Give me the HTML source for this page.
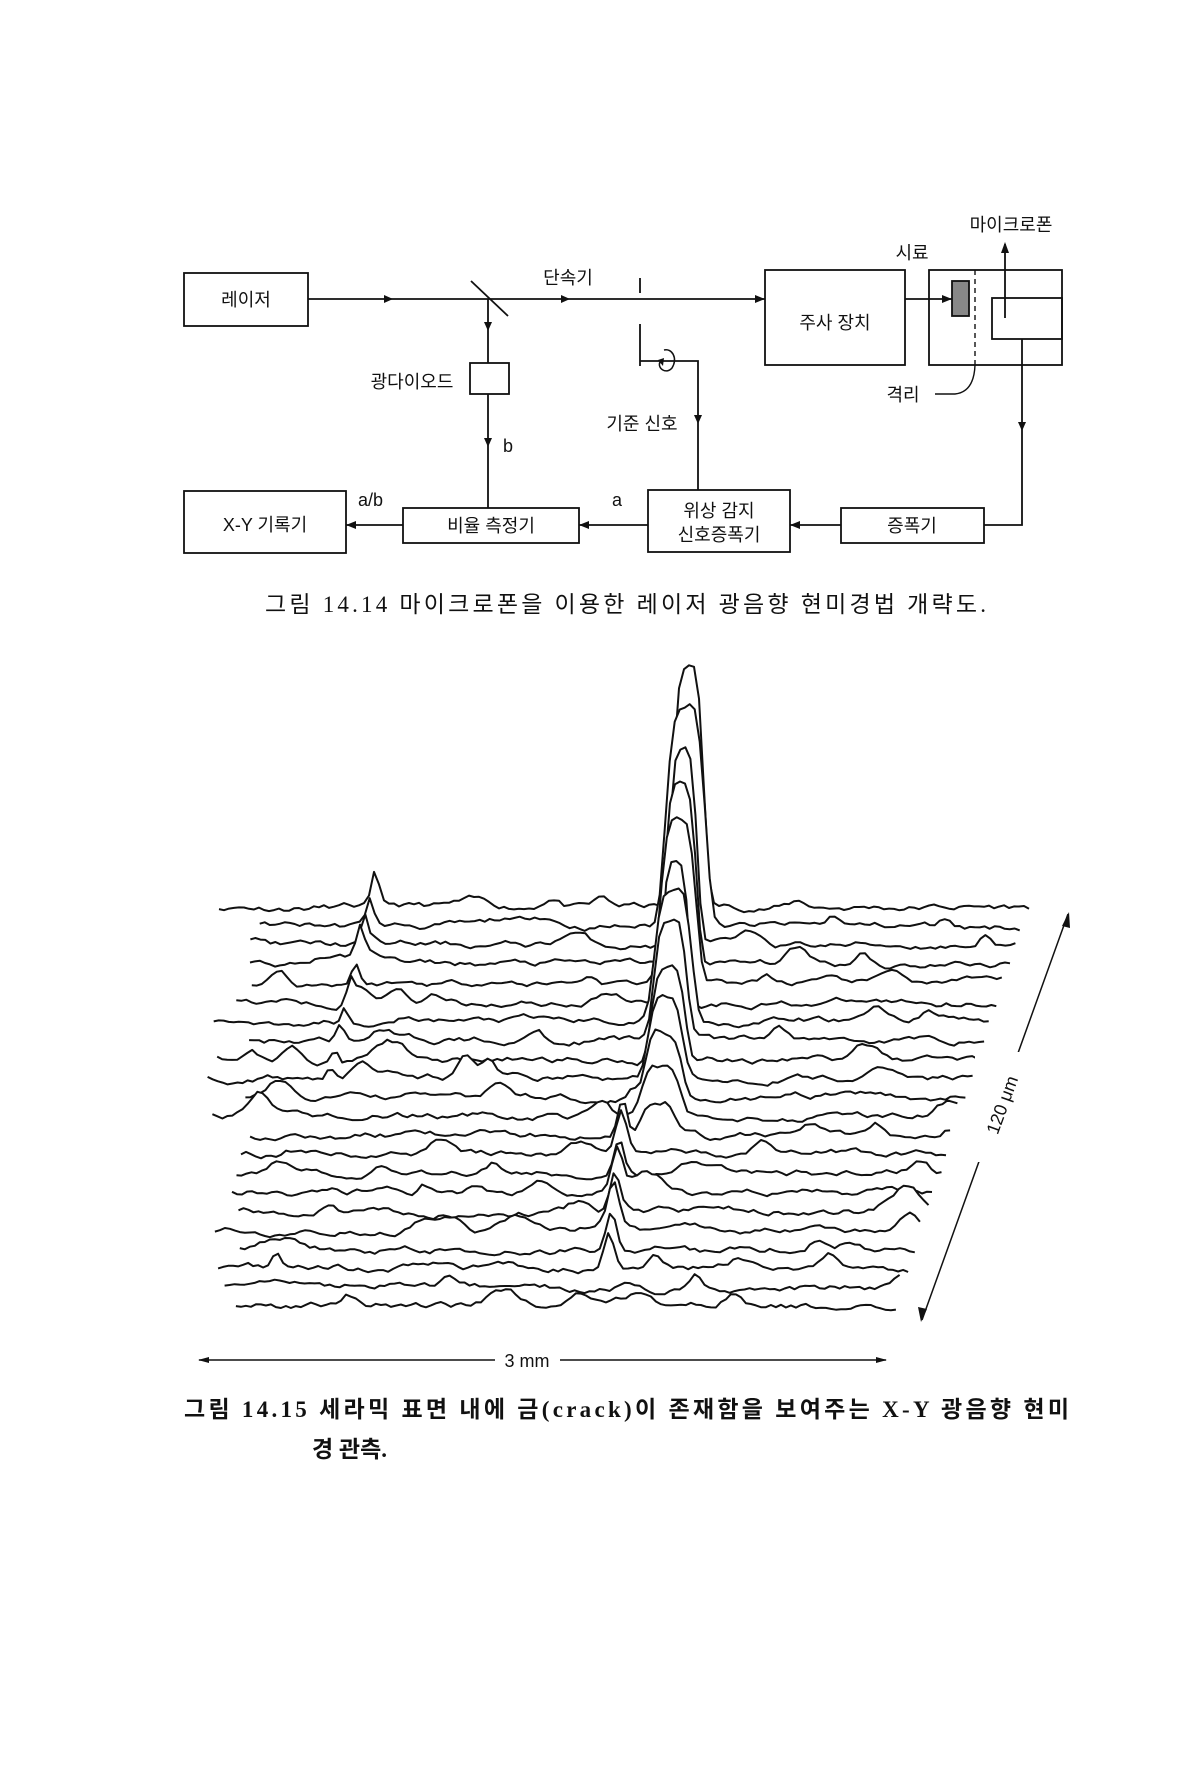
<!DOCTYPE html>
<html><head><meta charset="utf-8">
<style>
html,body{margin:0;padding:0;background:#fff;}
svg{display:block;}
.t{font-family:"Liberation Sans","Noto Sans CJK KR",sans-serif;font-size:18px;fill:#111;}
.c{font-family:"Liberation Serif","Noto Sans CJK KR",serif;font-size:23px;fill:#111;}
</style></head>
<body>
<svg id="s" width="1193" height="1767" viewBox="0 0 1193 1767" xmlns="http://www.w3.org/2000/svg">
<rect width="1193" height="1767" fill="#fff"/>
<g stroke="#111" stroke-width="1.8" fill="none">
  <rect x="184" y="273" width="124" height="53"/>
  <rect x="765" y="270" width="140" height="95"/>
  <rect x="929" y="270" width="133" height="95"/>
  <rect x="992" y="298" width="70" height="41"/>
  <rect x="470" y="363" width="39" height="31"/>
  <rect x="184" y="491" width="162" height="62"/>
  <rect x="403" y="508" width="176" height="35"/>
  <rect x="648" y="490" width="142" height="62"/>
  <rect x="841" y="508" width="143" height="35"/>
  <path d="M308 299 H765"/>
  <path d="M471 281 L508 316"/>
  <path d="M488 299 V363 M488 394 V508"/>
  <path d="M640 278 V293 M640 324 V366 M640 361 H698 V490"/>
  <path d="M905 299 H952"/>
  <path d="M975 270 V365" stroke-dasharray="5,4" stroke-width="1.4"/>
  <path d="M975 365 Q974 392 955 394 H935" stroke-width="1.4"/>
  <path d="M1005 318 V244"/>
  <path d="M1022 339 V525 H984"/>
  <path d="M841 525 H790 M648 525 H579 M403 525 H346"/>
</g>
<rect x="952" y="281" width="17" height="35" fill="#888" stroke="#111" stroke-width="1.8"/>
<g fill="#111">
  <polygon points="384,295 393,299 384,303"/>
  <polygon points="561,295 570,299 561,303"/>
  <polygon points="755,295 765,299 755,303"/>
  <polygon points="942,295 952,299 942,303"/>
  <polygon points="484,322 488,331 492,322"/>
  <polygon points="484,438 488,447 492,438"/>
  <polygon points="694,415 698,424 702,415"/>
  <polygon points="1018,422 1022,431 1026,422"/>
  <polygon points="1001,253 1005,242 1009,253"/>
  <polygon points="800,521 790,525 800,529"/>
  <polygon points="589,521 579,525 589,529"/>
  <polygon points="356,521 346,525 356,529"/>
</g>
<path d="M664 350 C672 348 678 358 672 368 C666 375 657 368 660 362" stroke="#111" stroke-width="1.5" fill="none"/>
<polygon points="658,360 663,366 664,358" fill="#111"/>
<g class="t">
  <text x="246" y="306" text-anchor="middle">레이저</text>
  <text x="568" y="284" text-anchor="middle">단속기</text>
  <text x="835" y="329" text-anchor="middle">주사 장치</text>
  <text x="912" y="259" text-anchor="middle">시료</text>
  <text x="1011" y="231" text-anchor="middle">마이크로폰</text>
  <text x="903" y="401" text-anchor="middle">격리</text>
  <text x="412" y="388" text-anchor="middle">광다이오드</text>
  <text x="642" y="430" text-anchor="middle">기준 신호</text>
  <text x="503" y="452">b</text>
  <text x="358" y="506">a/b</text>
  <text x="612" y="506">a</text>
  <text x="265" y="531" text-anchor="middle">X-Y 기록기</text>
  <text x="491" y="532" text-anchor="middle">비율 측정기</text>
  <text x="719" y="517" text-anchor="middle">위상 감지</text>
  <text x="719" y="541" text-anchor="middle">신호증폭기</text>
  <text x="912" y="532" text-anchor="middle">증폭기</text>
</g>
<text class="c" x="265" y="612" textLength="721">그림 14.14 마이크로폰을 이용한 레이저 광음향 현미경법 개략도.</text>
<g id="plot" stroke="#111" stroke-width="2" fill="#fff" stroke-linejoin="round"></g>
<g stroke="#111" stroke-width="1.5" fill="none">
  <path d="M1068 914 L922 1320"/>
  <path d="M199 1360 H495 M560 1360 H886"/>
</g>
<rect x="975" y="1052" width="55" height="110" fill="#fff"/>
<g fill="#111">
  <polygon points="1062,926 1069,912 1070,928"/>
  <polygon points="918,1307 921,1322 927,1309"/>
  <polygon points="209,1357 198,1360 209,1363"/>
  <polygon points="876,1357 887,1360 876,1363"/>
</g>
<text class="t" x="0" y="0" transform="translate(1008,1107) rotate(-70)" text-anchor="middle">120 μm</text>
<text class="t" x="527" y="1367" text-anchor="middle">3 mm</text>
<text class="c" x="184" y="1417" textLength="885" font-weight="bold">그림 14.15 세라믹 표면 내에 금(crack)이 존재함을 보여주는 X-Y 광음향 현미</text>
<text class="c" x="312" y="1457" font-weight="bold">경 관측.</text>
</svg>
<script>
(function(){
var seed=11;function r(){seed=(seed*16807)%2147483647;return seed/2147483647;}
var g=document.getElementById('plot');var N=22;var out='';
for(var i=0;i<N;i++){
  var y0=907+i*19.0;
  var xs=244-i*1.5+(r()-0.5)*50;
  var xe=1031-i*(134/(N-1));
  var pk=688-i*2.5, A=i<13?Math.pow(1-i/13,1.1)*210+22:0, W=13+r()*9;
  var n=0,pts=[];
  var bumps=[];for(var k=0;k<5;k++)bumps.push([xs+r()*(xe-xs),4+r()*12,6+r()*14]);
  if(i<10)bumps.push([375-i*5,30-i*2,5]);
  if(i>=12&&i<20)bumps.push([623-(i-12)*2,38,7]);
  for(var x=xs;x<=xe;x+=5){
    n+= (r()-0.5)*4; n*=0.85;
    var h=n*1.5;
    var d=(x-pk)/W; h+=A*Math.exp(-d*d*d*d);
    for(var b=0;b<bumps.length;b++){var e=(x-bumps[b][0])/bumps[b][2];h+=bumps[b][1]*Math.exp(-e*e);}
    pts.push([x,y0-h]);
  }
  var d='M'+pts[0][0].toFixed(1)+' '+(y0+3);
  var s='M'+pts[0][0].toFixed(1)+' '+pts[0][1].toFixed(1);
  for(var p=0;p<pts.length;p++){d+=' L'+pts[p][0].toFixed(1)+' '+pts[p][1].toFixed(1);if(p)s+=' L'+pts[p][0].toFixed(1)+' '+pts[p][1].toFixed(1);}
  d+=' L'+pts[pts.length-1][0].toFixed(1)+' '+(y0+3)+' Z';
  out+='<path d="'+d+'" stroke="none"/><path d="'+s+'" fill="none"/>';
}
g.innerHTML=out;
})();
</script>
</body></html>
